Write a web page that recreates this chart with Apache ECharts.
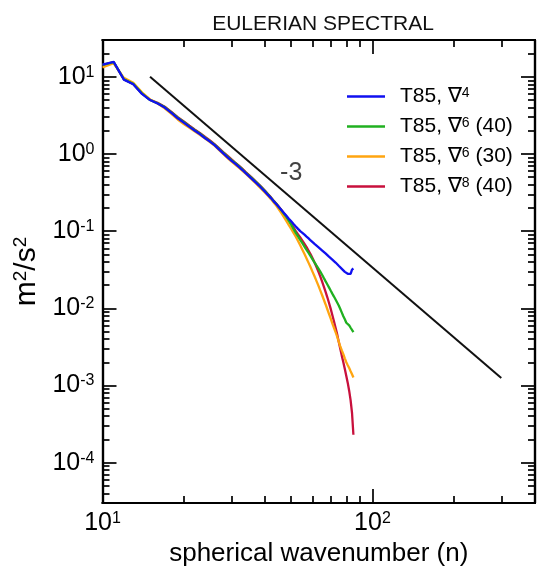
<!DOCTYPE html>
<html>
<head>
<meta charset="utf-8">
<script src="https://cdn.jsdelivr.net/npm/echarts@6/dist/echarts.min.js"></script>
<style>
  html, body { margin: 0; padding: 0; background: #fff; }
  #chart { width: 537px; height: 570px; }
</style>
</head>
<body>
<div id="chart"></div>
<script>
// Spherical wavenumbers n = 10 .. 85 (T85 truncation)
const waveNumbers = [
  10, 11, 12, 13, 14, 15, 16, 17, 18, 19,
  20, 21, 22, 23, 24, 25, 26, 27, 28, 29,
  30, 31, 32, 33, 34, 35, 36, 37, 38, 39,
  40, 41, 42, 43, 44, 45, 46, 47, 48, 49,
  50, 51, 52, 53, 54, 55, 56, 57, 58, 59,
  60, 61, 62, 63, 64, 65, 66, 67, 68, 69,
  70, 71, 72, 73, 74, 75, 76, 77, 78, 79,
  80, 81, 82, 83, 84, 85
];

// Kinetic energy spectra, m^2/s^2
const energyDel4 = [
  14.4, 15.6, 9.2, 8.0, 6.0, 5.0, 4.5, 4.0, 3.4, 2.9,
  2.55, 2.25, 2.0, 1.8, 1.6, 1.45, 1.3, 1.15, 1.02, 0.91,
  0.82, 0.75, 0.68, 0.62, 0.56, 0.51, 0.465, 0.425, 0.39, 0.355,
  0.325, 0.295, 0.27, 0.245, 0.225, 0.205, 0.188, 0.172, 0.158, 0.145,
  0.134, 0.124, 0.115, 0.107, 0.1, 0.095, 0.09, 0.085, 0.0805, 0.0757,
  0.0715, 0.0682, 0.065, 0.062, 0.0592, 0.0565, 0.054, 0.0515, 0.049, 0.0467,
  0.0447, 0.0428, 0.041, 0.0392, 0.0373, 0.0356, 0.034, 0.0325, 0.031, 0.0297,
  0.0287, 0.028, 0.0276, 0.028, 0.0318, 0.0328
];
const energyDel6n40 = [
  14.3, 15.5, 9.3, 8.1, 6.1, 5.0, 4.55, 4.05, 3.45, 2.95,
  2.6, 2.28, 2.03, 1.83, 1.63, 1.47, 1.32, 1.17, 1.04, 0.93,
  0.84, 0.765, 0.695, 0.63, 0.57, 0.52, 0.475, 0.435, 0.398, 0.362,
  0.33, 0.3, 0.273, 0.248, 0.226, 0.205, 0.186, 0.168, 0.152, 0.136,
  0.121, 0.107, 0.095, 0.0856, 0.0772, 0.0698, 0.0632, 0.0573, 0.0521, 0.0474,
  0.0432, 0.0394, 0.036, 0.033, 0.0302, 0.0274, 0.0248, 0.0225, 0.0205, 0.0187,
  0.017, 0.0155, 0.0142, 0.013, 0.0119, 0.0109, 0.0098, 0.0088, 0.0079, 0.0072,
  0.0065, 0.0063, 0.006, 0.0056, 0.0053, 0.0049
];
const energyDel6n30 = [
  13.2, 15.0, 9.7, 8.4, 6.3, 5.1, 4.5, 3.9, 3.3, 2.8,
  2.45, 2.18, 1.95, 1.76, 1.58, 1.43, 1.28, 1.13, 1.0, 0.89,
  0.8, 0.73, 0.665, 0.605, 0.55, 0.5, 0.455, 0.415, 0.378, 0.345,
  0.316, 0.288, 0.262, 0.237, 0.214, 0.192, 0.171, 0.152, 0.135, 0.12,
  0.107, 0.095, 0.0845, 0.0745, 0.0655, 0.0575, 0.0505, 0.0443, 0.0388, 0.034,
  0.0297, 0.026, 0.0227, 0.0198, 0.0172, 0.015, 0.013, 0.0113, 0.0098, 0.0085,
  0.0074, 0.0064, 0.0056, 0.0049, 0.0043, 0.0037, 0.0032, 0.00285, 0.00255, 0.00225,
  0.002, 0.00183, 0.00168, 0.00153, 0.0014, 0.00127
];
const energyDel8n40 = [
  14.2, 15.4, 9.3, 8.1, 6.1, 5.05, 4.6, 4.1, 3.5, 3.0,
  2.65, 2.33, 2.07, 1.86, 1.66, 1.5, 1.34, 1.19, 1.06, 0.95,
  0.855, 0.775, 0.705, 0.64, 0.58, 0.53, 0.482, 0.44, 0.402, 0.366,
  0.334, 0.303, 0.276, 0.25, 0.228, 0.207, 0.188, 0.17, 0.154, 0.139,
  0.125, 0.112, 0.1, 0.091, 0.083, 0.0755, 0.0685, 0.062, 0.0558, 0.05,
  0.0445, 0.0393, 0.0345, 0.0301, 0.0261, 0.0225, 0.0193, 0.0165, 0.014, 0.0118,
  0.0099, 0.0082, 0.0068, 0.0056, 0.0046, 0.0037, 0.003, 0.00242, 0.002, 0.00163,
  0.00133, 0.00108, 0.00085, 0.00064, 0.00044, 0.00023
];

// Reference n^-3 slope line
const slopeLineN = [15, 300];
const slopeLineE = [10, 0.00125];
const slopeLabelText = '-3';
const slopeLabelN = 50;
const slopeLabelE = 0.57;

// Axis ticks
const xMajorTicks = [10, 100];
const xMinorTicks = [20, 30, 40, 50, 60, 70, 80, 90, 200, 300, 400];
const yMajorTicks = [1e-4, 1e-3, 1e-2, 1e-1, 1, 10];
const yMinorTicks = [
  4e-5, 5e-5, 6e-5, 7e-5, 8e-5, 9e-5,
  2e-4, 3e-4, 4e-4, 5e-4, 6e-4, 7e-4, 8e-4, 9e-4,
  2e-3, 3e-3, 4e-3, 5e-3, 6e-3, 7e-3, 8e-3, 9e-3,
  0.02, 0.03, 0.04, 0.05, 0.06, 0.07, 0.08, 0.09,
  0.2, 0.3, 0.4, 0.5, 0.6, 0.7, 0.8, 0.9,
  2, 3, 4, 5, 6, 7, 8, 9, 20
];

const seriesNames = ['T85, \u2207^4', 'T85, \u2207^6 (40)', 'T85, \u2207^6 (30)', 'T85, \u2207^8 (40)'];
const seriesLegendRich = [
  '{t|T85, \u2207}{s|4}',
  '{t|T85, \u2207}{s|6}{t| (40)}',
  '{t|T85, \u2207}{s|6}{t| (30)}',
  '{t|T85, \u2207}{s|8}{t| (40)}'
];
const seriesColors = ['#1010f0', '#20b020', '#ffa510', '#c8103c'];
const seriesValues = [energyDel4, energyDel6n40, energyDel6n30, energyDel8n40];

const FONT = '"Liberation Sans", Arial, Helvetica, sans-serif';
const X_MIN = 10, X_MAX = 400, Y_MIN = 3e-5, Y_MAX = 30;

const powRich = {
  b: { fontFamily: FONT, fontSize: 25, color: '#000' },
  e: { fontFamily: FONT, fontSize: 16, color: '#000', verticalAlign: 'top' }
};
function powLabel(v) {
  const e = Math.round(Math.log10(v));
  return '{b|10}{e|' + e + '}';
}

function makeAxis(kind, position, ticks, len, withLabels) {
  const ax = {
    type: 'log',
    logBase: 10,
    min: kind === 'x' ? X_MIN : Y_MIN,
    max: kind === 'x' ? X_MAX : Y_MAX,
    position: position,
    gridIndex: 0,
    axisLine: { show: true, onZero: false, lineStyle: { color: '#000', width: 2.2 } },
    axisTick: {
      show: true, inside: true, length: len, customValues: ticks,
      lineStyle: { color: '#000', width: 1.7 }
    },
    axisLabel: { show: false },
    splitLine: { show: false },
    minorTick: { show: false },
    minorSplitLine: { show: false }
  };
  if (withLabels) {
    ax.axisLabel = {
      show: true,
      customValues: ticks,
      formatter: powLabel,
      rich: powRich,
      margin: 8
    };
  }
  return ax;
}

const xAxes = [
  makeAxis('x', 'bottom', xMajorTicks, 14, true),
  makeAxis('x', 'bottom', xMinorTicks, 7, false),
  makeAxis('x', 'top', xMajorTicks, 14, false),
  makeAxis('x', 'top', xMinorTicks, 7, false)
];
Object.assign(xAxes[0], {
  name: 'spherical wavenumber (n)',
  nameLocation: 'middle',
  nameGap: 37,
  nameTextStyle: { fontFamily: FONT, fontSize: 26, color: '#000' }
});

const yAxes = [
  makeAxis('y', 'left', yMajorTicks, 14, true),
  makeAxis('y', 'left', yMinorTicks, 7, false),
  makeAxis('y', 'right', yMajorTicks, 14, false),
  makeAxis('y', 'right', yMinorTicks, 7, false)
];
Object.assign(yAxes[0], {
  name: '{a|m}{s|2}{a|/s}{s|2}',
  nameLocation: 'middle',
  nameGap: 60,
  nameRotate: 90,
  nameTextStyle: {
    color: '#000',
    rich: {
      a: { fontFamily: FONT, fontSize: 30, color: '#000' },
      s: { fontFamily: FONT, fontSize: 19, color: '#000', verticalAlign: 'top' }
    }
  }
});

const zOrder = [5, 4, 3, 2];
const spectraSeries = seriesNames.map((name, i) => ({
  name: name,
  type: 'line',
  xAxisIndex: 0,
  yAxisIndex: 0,
  data: waveNumbers.map((n, k) => [n, seriesValues[i][k]]),
  symbol: 'none',
  showSymbol: false,
  color: seriesColors[i],
  lineStyle: { color: seriesColors[i], width: 2.3 },
  z: zOrder[i],
  animation: false
}));

const option = {
  backgroundColor: '#fff',
  animation: false,
  title: {
    text: 'EULERIAN SPECTRAL',
    left: 318,
    textAlign: 'center',
    top: 9,
    textStyle: { fontFamily: FONT, fontSize: 21, fontWeight: 'normal', color: '#111' }
  },
  grid: {
    left: 102.5, top: 40, right: 2, bottom: 67,
    containLabel: false,
    outerBoundsMode: 'none'
  },
  legend: {
    data: seriesNames,
    orient: 'vertical',
    left: 342,
    top: 81,
    itemWidth: 38,
    itemHeight: 2.5,
    itemGap: 9,
    icon: 'rect',
    formatter: name => seriesLegendRich[seriesNames.indexOf(name)],
    textStyle: {
      padding: [0, 0, 0, 10],
      rich: {
        t: { fontFamily: FONT, fontSize: 21, color: '#000' },
        s: { fontFamily: FONT, fontSize: 14, color: '#000', verticalAlign: 'top' }
      }
    }
  },
  xAxis: xAxes,
  yAxis: yAxes,
  series: spectraSeries.concat([
    {
      name: 'slope',
      type: 'line',
      xAxisIndex: 0,
      yAxisIndex: 0,
      data: slopeLineN.map((n, k) => [n, slopeLineE[k]]),
      symbol: 'none',
      lineStyle: { color: '#111', width: 2 },
      z: 1,
      silent: true
    },
    {
      name: 'slopeLabel',
      type: 'scatter',
      xAxisIndex: 0,
      yAxisIndex: 0,
      data: [[slopeLabelN, slopeLabelE]],
      symbolSize: 1,
      itemStyle: { color: 'rgba(0,0,0,0)' },
      label: {
        show: true,
        position: 'inside',
        formatter: slopeLabelText,
        fontFamily: FONT,
        fontSize: 25,
        color: '#111'
      },
      silent: true
    }
  ])
};

const chart = echarts.init(document.getElementById('chart'), null, { renderer: 'canvas' });
chart.setOption(option);
</script>
</body>
</html>
